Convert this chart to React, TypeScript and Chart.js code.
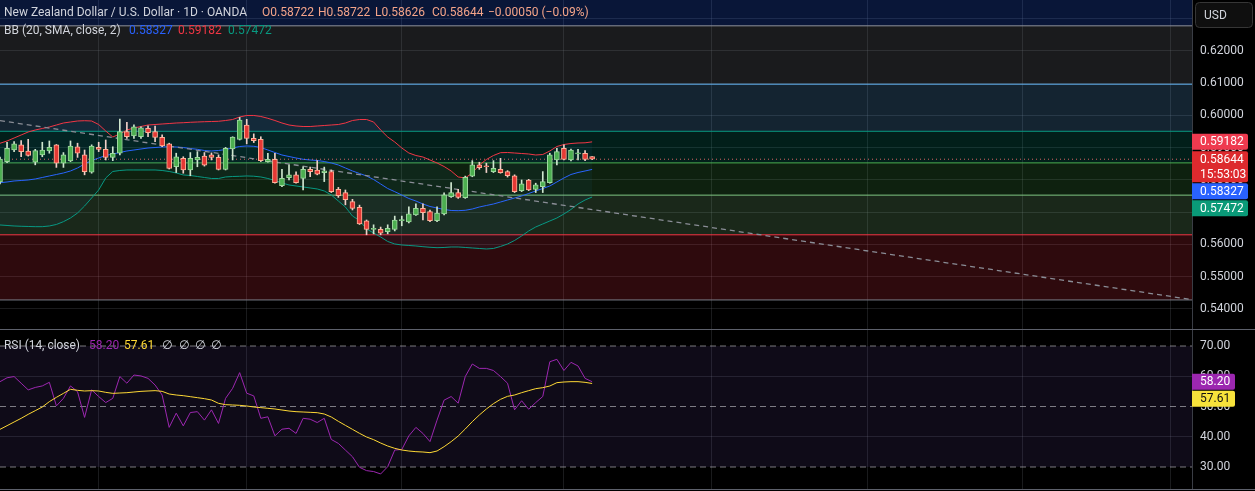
import React, { useEffect, useRef } from 'react';
import { Chart, registerables } from 'chart.js';

Chart.register(...registerables);

// ---------------- DATA ----------------
const symbolTitle = 'New Zealand Dollar / U.S. Dollar · 1D · OANDA';
const lastOpen = 0.58722;
const lastHigh = 0.58722;
const lastLow = 0.58626;
const lastClose = 0.58644;
const lastChange = -0.0005;
const lastChangePct = -0.09;
const countdown = '15:53:03';

const opens = [
  0.5794, 0.5857, 0.5893, 0.5909, 0.5890, 0.5855, 0.5878, 0.5890, 0.5909, 0.5852,
  0.5859, 0.5903, 0.5878, 0.5824, 0.5901, 0.5895, 0.5870, 0.5883, 0.5950, 0.5937,
  0.5934, 0.5960, 0.5950, 0.5932, 0.5912, 0.5841, 0.5867, 0.5831, 0.5862, 0.5874,
  0.5878, 0.5870, 0.5833, 0.5896, 0.5926, 0.5970, 0.5929, 0.5926, 0.5857, 0.5864,
  0.5782, 0.5807, 0.5816, 0.5805, 0.5833, 0.5831, 0.5823, 0.5826, 0.5771, 0.5761,
  0.5733, 0.5715, 0.5673, 0.5647, 0.5647, 0.5640, 0.5647, 0.5674, 0.5670, 0.5692,
  0.5712, 0.5702, 0.5674, 0.5695, 0.5748, 0.5761, 0.5745, 0.5812, 0.5847, 0.5842,
  0.5826, 0.5833, 0.5826, 0.5813, 0.5767, 0.5800, 0.5771, 0.5779, 0.5792, 0.5862,
  0.5898, 0.5862, 0.5881, 0.5883, 0.58722,
];
const highs = [
  0.5871, 0.5917, 0.5919, 0.5922, 0.5926, 0.5895, 0.5917, 0.5921, 0.5910, 0.5885,
  0.5921, 0.5914, 0.5893, 0.5909, 0.5917, 0.5924, 0.5903, 0.5989, 0.5979, 0.5971,
  0.5965, 0.5968, 0.5967, 0.5940, 0.5914, 0.5883, 0.5872, 0.5885, 0.5888, 0.5885,
  0.5884, 0.5878, 0.5901, 0.5934, 0.5994, 0.5988, 0.5943, 0.5934, 0.5883, 0.5883,
  0.5833, 0.5847, 0.5825, 0.5841, 0.5840, 0.5860, 0.5840, 0.5831, 0.5777, 0.5769,
  0.5740, 0.5722, 0.5676, 0.5661, 0.5654, 0.5661, 0.5688, 0.5688, 0.5717, 0.5726,
  0.5726, 0.5707, 0.5717, 0.5760, 0.5792, 0.5771, 0.5812, 0.5860, 0.5855, 0.5852,
  0.5860, 0.5867, 0.5829, 0.5816, 0.5800, 0.5802, 0.5790, 0.5826, 0.5883, 0.5898,
  0.5909, 0.5896, 0.5895, 0.5891, 0.58722,
];
const lows = [
  0.5788, 0.5854, 0.5888, 0.5872, 0.5874, 0.5847, 0.5872, 0.5883, 0.5839, 0.5839,
  0.5857, 0.5870, 0.5816, 0.5821, 0.5888, 0.5862, 0.5860, 0.5878, 0.5929, 0.5929,
  0.5929, 0.5934, 0.5919, 0.5903, 0.5834, 0.5823, 0.5821, 0.5813, 0.5841, 0.5843,
  0.5862, 0.5831, 0.5831, 0.5862, 0.5924, 0.5912, 0.5916, 0.5857, 0.5855, 0.5790,
  0.5779, 0.5800, 0.5790, 0.5769, 0.5810, 0.5816, 0.5795, 0.5761, 0.5746, 0.5723,
  0.5707, 0.5662, 0.5630, 0.5633, 0.5630, 0.5633, 0.5642, 0.5658, 0.5667, 0.5690,
  0.5676, 0.5671, 0.5671, 0.5692, 0.5746, 0.5743, 0.5743, 0.5810, 0.5833, 0.5823,
  0.5823, 0.5821, 0.5809, 0.5761, 0.5764, 0.5767, 0.5761, 0.5761, 0.5790, 0.5847,
  0.5862, 0.5859, 0.5862, 0.5860, 0.58626,
];
const closes = [
  0.5865, 0.5898, 0.5912, 0.5888, 0.5876, 0.5891, 0.5893, 0.5901, 0.5852, 0.5878,
  0.5905, 0.5883, 0.5826, 0.5905, 0.5895, 0.5870, 0.5883, 0.5950, 0.5934, 0.5965,
  0.5962, 0.5947, 0.5932, 0.5906, 0.5836, 0.5872, 0.5831, 0.5867, 0.5870, 0.5846,
  0.5870, 0.5833, 0.5898, 0.5933, 0.5986, 0.5929, 0.5922, 0.5860, 0.5864, 0.5792,
  0.5805, 0.5816, 0.5792, 0.5833, 0.5826, 0.5818, 0.5828, 0.5764, 0.5751, 0.5739,
  0.5712, 0.5664, 0.5647, 0.5648, 0.5635, 0.5650, 0.5676, 0.5675, 0.5695, 0.5712,
  0.5699, 0.5674, 0.5697, 0.5754, 0.5761, 0.5746, 0.5808, 0.5847, 0.5838, 0.5841,
  0.5836, 0.5823, 0.5813, 0.5764, 0.5788, 0.5769, 0.5785, 0.5795, 0.5878, 0.5888,
  0.5864, 0.5893, 0.5883, 0.5864, 0.58644,
];

const bbUpper = [
  0.59138, 0.59209, 0.59302, 0.59395, 0.59488, 0.59550, 0.59597, 0.59643, 0.59705, 0.59767,
  0.59798, 0.59829, 0.59838, 0.59829, 0.59720, 0.59519, 0.59333, 0.59426, 0.59550, 0.59612,
  0.59658, 0.59705, 0.59720, 0.59736, 0.59751, 0.59767, 0.59776, 0.59789, 0.59798, 0.59807,
  0.59813, 0.59820, 0.59844, 0.59875, 0.59953, 0.60000, 0.60000, 0.59969, 0.59913, 0.59844,
  0.59767, 0.59705, 0.59674, 0.59658, 0.59658, 0.59674, 0.59689, 0.59705, 0.59720, 0.59767,
  0.59844, 0.59875, 0.59875, 0.59798, 0.59550, 0.59333, 0.59178, 0.58992, 0.58837, 0.58759,
  0.58713, 0.58620, 0.58527, 0.58418, 0.58279, 0.58093, 0.58062, 0.58217, 0.58465, 0.58635,
  0.58759, 0.58846, 0.58852, 0.58837, 0.58821, 0.58806, 0.58775, 0.58790, 0.58899, 0.59038,
  0.59100, 0.59131, 0.59147, 0.59153, 0.59182,
];
const bbBasis = [
  0.57916, 0.57938, 0.57969, 0.57984, 0.58000, 0.58031, 0.58077, 0.58124, 0.58170, 0.58217,
  0.58279, 0.58372, 0.58496, 0.58604, 0.58682, 0.58759, 0.58806, 0.58852, 0.58899, 0.58930,
  0.58961, 0.58992, 0.59007, 0.59023, 0.59029, 0.59023, 0.59007, 0.58976, 0.58951, 0.58914,
  0.58899, 0.58914, 0.58945, 0.58992, 0.59038, 0.59054, 0.59045, 0.59007, 0.58930, 0.58852,
  0.58775, 0.58728, 0.58682, 0.58641, 0.58620, 0.58604, 0.58573, 0.58527, 0.58465, 0.58372,
  0.58279, 0.58201, 0.58124, 0.58015, 0.57876, 0.57736, 0.57637, 0.57534, 0.57426, 0.57348,
  0.57255, 0.57178, 0.57131, 0.57085, 0.57054, 0.57048, 0.57060, 0.57100, 0.57162, 0.57209,
  0.57255, 0.57317, 0.57379, 0.57441, 0.57503, 0.57581, 0.57659, 0.57736, 0.57814, 0.57938,
  0.58062, 0.58170, 0.58232, 0.58279, 0.58327,
];
const bbLower = [
  0.56604, 0.56589, 0.56573, 0.56564, 0.56558, 0.56552, 0.56552, 0.56573, 0.56620, 0.56707,
  0.56821, 0.56976, 0.57193, 0.57441, 0.57690, 0.58062, 0.58263, 0.58294, 0.58310, 0.58310,
  0.58310, 0.58310, 0.58310, 0.58294, 0.58263, 0.58217, 0.58155, 0.58139, 0.58108, 0.58077,
  0.58046, 0.58046, 0.58093, 0.58108, 0.58114, 0.58124, 0.58117, 0.58093, 0.58046, 0.57984,
  0.57907, 0.57845, 0.57814, 0.57783, 0.57752, 0.57721, 0.57659, 0.57534, 0.57348, 0.57162,
  0.56883, 0.56744, 0.56480, 0.56356, 0.56232, 0.56093, 0.56015, 0.55984, 0.55969, 0.55953,
  0.55931, 0.55913, 0.55900, 0.55907, 0.55922, 0.55922, 0.55907, 0.55891, 0.55876, 0.55860,
  0.55876, 0.55938, 0.56015, 0.56124, 0.56263, 0.56418, 0.56542, 0.56635, 0.56728, 0.56821,
  0.56945, 0.57085, 0.57255, 0.57379, 0.57472,
];

const rsiValues = [
  58.2, 59.5, 59.9, 57.7, 55.5, 56.3, 56.8, 58.0, 50.2, 52.7,
  56.8, 54.9, 46.4, 55.5, 53.3, 51.3, 52.7, 59.9, 57.7, 60.4,
  60.1, 59.3, 57.1, 53.8, 43.1, 47.8, 43.6, 48.0, 48.3, 45.5,
  48.9, 44.4, 52.7, 56.0, 61.2, 54.4, 53.5, 46.1, 46.6, 40.3,
  42.5, 42.8, 41.1, 46.1, 45.8, 44.7, 46.1, 39.1, 37.8, 35.6,
  33.4, 29.9, 28.8, 28.5, 27.7, 30.1, 35.6, 35.8, 40.3, 43.1,
  41.1, 38.4, 45.5, 52.1, 53.3, 51.1, 59.9, 64.05, 62.6, 62.6,
  61.9, 59.9, 57.7, 48.9, 51.9, 49.1, 51.3, 53.3, 64.8, 65.6,
  61.9, 64.6, 63.4, 59.3, 58.2,
];
const rsiMaValues = [
  42.45, 43.66, 44.88, 46.09, 47.41, 48.62, 49.84, 51.6, 53.03, 54.35,
  55.68, 55.35, 55.13, 55.24, 55.13, 54.68, 54.35, 54.46, 54.57, 54.79,
  55.01, 55.13, 55.24, 55.01, 54.13, 53.8, 53.58, 53.25, 52.92, 52.59,
  52.15, 51.05, 50.61, 50.5, 50.39, 50.17, 49.84, 49.62, 49.4, 49.18,
  48.84, 48.51, 48.29, 48.18, 48.07, 47.96, 47.52, 46.53, 45.1, 43.77,
  42.45, 41.13, 39.92, 39.04, 37.93, 36.94, 36.17, 35.62, 35.29, 35.07,
  34.96, 34.74, 35.29, 36.72, 38.38, 40.25, 42.56, 44.99, 47.19, 49.18,
  50.94, 52.37, 53.36, 53.8, 54.57, 55.24, 55.9, 56.23, 56.78, 57.88,
  58.1, 58.21, 58.21, 57.99, 57.61,
];
const rsiLast = 58.2;
const rsiMaLast = 57.61;

const fibLevels = [0.5428, 0.5630, 0.5753, 0.5853, 0.5951, 0.6097, 0.6278];
const trendFromBar = 0;
const trendFromPrice = 0.5984;
const trendToBar = 169.1;
const trendToPrice = 0.5429;

const monthGridBars = [14, 35, 57, 80, 101, 123, 145, 166];
const priceTicks = [0.54, 0.55, 0.56, 0.57, 0.58, 0.59, 0.6, 0.61, 0.62, 0.63];
const rsiTicks = [30, 40, 50, 60, 70];
const rsiLevels = [70, 50, 30];

// ---------------- LAYOUT / STYLE ----------------
const W = 1255;
const AXIS_W = 63;
const MAIN_H = 329;
const RSI_TOP = 330;
const RSI_H = 159;
const X_MIN = 0;
const X_MAX = 169.1;
const PRICE_MIN = 0.53379;
const PRICE_MAX = 0.63581;
const RSI_MIN = 22.73;
const RSI_MAX = 75.29;
const FONT = 'Roboto, "Noto Sans", "DejaVu Sans", sans-serif';

const UP = '#4caf50';
const UP_BORDER = '#9ed89f';
const DOWN = '#e53935';
const DOWN_BORDER = '#ffb199';
const WICK_UP = '#cfe6cf';
const WICK_DOWN = '#f0cfc8';
const GRID = 'rgba(120,123,134,0.22)';
const AXIS_TEXT = '#d1d4dc';

const fibLineColors = ['#787b86', '#f23645', '#81c784', '#4caf50', '#089981', '#64b5f6', '#8f929c'];
const fibFillColors = [
  'rgba(0,0,0,0)',
  'rgba(242,54,69,0.19)',
  'rgba(129,199,132,0.2)',
  'rgba(76,175,80,0.19)',
  'rgba(8,153,129,0.2)',
  'rgba(100,181,246,0.2)',
  'rgba(120,123,134,0.22)',
];
const fibTopFill = 'rgba(41,98,255,0.22)';

const BB_UP_C = '#f23645';
const BB_BASIS_C = '#2962ff';
const BB_LOW_C = '#089981';
const RSI_C = '#9c27b0';
const RSI_MA_C = '#fdd835';

function fmt5(v: number) {
  return v.toFixed(5);
}
function signed(v: number, d: number) {
  return (v < 0 ? '\u2212' : '+') + Math.abs(v).toFixed(d);
}

function roundRect(ctx: CanvasRenderingContext2D, x: number, y: number, w: number, h: number, r: number) {
  ctx.beginPath();
  ctx.moveTo(x, y);
  ctx.lineTo(x + w - r, y);
  ctx.quadraticCurveTo(x + w, y, x + w, y + r);
  ctx.lineTo(x + w, y + h - r);
  ctx.quadraticCurveTo(x + w, y + h, x + w - r, y + h);
  ctx.lineTo(x, y + h);
  ctx.closePath();
}

type Box = { value: number; color: string; text: string; text2?: string; textColor: string };

function drawBoxes(ctx: CanvasRenderingContext2D, scale: any, boxes: Box[], x0: number, x1: number) {
  const sorted = [...boxes].sort((a, b) => b.value - a.value);
  let prevBottom = -1e9;
  ctx.textBaseline = 'middle';
  ctx.textAlign = 'left';
  for (const b of sorted) {
    const y = scale.getPixelForValue(b.value);
    const h = b.text2 ? 31 : 16;
    let top = y - 8;
    if (top < prevBottom + 1) top = prevBottom + 1;
    ctx.fillStyle = b.color;
    roundRect(ctx, x0, top, x1 - x0, h, 2);
    ctx.fill();
    ctx.fillStyle = b.textColor;
    ctx.font = `12px ${FONT}`;
    ctx.fillText(b.text, x0 + 8, top + 8.5);
    if (b.text2) {
      ctx.fillText(b.text2, x0 + 8, top + 23.5);
    }
    prevBottom = top + h;
  }
}

const mainOverlay = {
  id: 'mainOverlay',
  afterDraw(chart: any) {
    const ctx: CanvasRenderingContext2D = chart.ctx;
    const ys = chart.scales.y;
    const area = chart.chartArea;
    ctx.save();
    ctx.textBaseline = 'middle';
    ctx.textAlign = 'left';
    ctx.font = `12px ${FONT}`;
    ctx.fillStyle = AXIS_TEXT;
    ctx.fillText(symbolTitle, 4, 13, 250);
    const peach = '#f4a489';
    const segs: [string, number][] = [
      ['O' + fmt5(lastOpen), 262],
      ['H' + fmt5(lastHigh), 318],
      ['L' + fmt5(lastLow), 375],
      ['C' + fmt5(lastClose), 432],
      [signed(lastChange, 5) + ' (' + signed(lastChangePct, 2) + '%)', 488],
    ];
    ctx.fillStyle = peach;
    for (const [t, x] of segs) ctx.fillText(t, x, 13);
    ctx.fillStyle = AXIS_TEXT;
    ctx.fillText('BB (20, SMA, close, 2)', 4, 30.5, 117);
    ctx.fillStyle = BB_BASIS_C;
    ctx.fillText(fmt5(bbBasis[bbBasis.length - 1]), 129, 30.5);
    ctx.fillStyle = BB_UP_C;
    ctx.fillText(fmt5(bbUpper[bbUpper.length - 1]), 178, 30.5);
    ctx.fillStyle = BB_LOW_C;
    ctx.fillText(fmt5(bbLower[bbLower.length - 1]), 228, 30.5);

    const x0 = area.right;
    drawBoxes(
      ctx,
      ys,
      [
        { value: bbUpper[bbUpper.length - 1], color: '#ef3a4f', text: fmt5(bbUpper[bbUpper.length - 1]), textColor: '#ffffff' },
        { value: lastClose, color: '#dd2a2e', text: fmt5(lastClose), text2: countdown, textColor: '#ffffff' },
        { value: bbBasis[bbBasis.length - 1], color: '#2962ff', text: fmt5(bbBasis[bbBasis.length - 1]), textColor: '#ffffff' },
        { value: bbLower[bbLower.length - 1], color: '#0a9a78', text: fmt5(bbLower[bbLower.length - 1]), textColor: '#ffffff' },
      ],
      x0,
      x0 + 56
    );

    ctx.fillStyle = '#000000';
    ctx.fillRect(x0 + 1, 0, W - x0 - 1, 30);
    ctx.beginPath();
    const bx = 1195.5, by = 2.5, bw = 57, bh = 25, r = 4;
    ctx.moveTo(bx + r, by);
    ctx.arcTo(bx + bw, by, bx + bw, by + bh, r);
    ctx.arcTo(bx + bw, by + bh, bx, by + bh, r);
    ctx.arcTo(bx, by + bh, bx, by, r);
    ctx.arcTo(bx, by, bx + bw, by, r);
    ctx.closePath();
    ctx.fillStyle = '#0f0f0f';
    ctx.fill();
    ctx.strokeStyle = '#363636';
    ctx.lineWidth = 1;
    ctx.stroke();
    ctx.fillStyle = AXIS_TEXT;
    ctx.font = `12px ${FONT}`;
    ctx.fillText('USD', 1204, 15.5);
    ctx.restore();
  },
};

const rsiOverlay = {
  id: 'rsiOverlay',
  afterDraw(chart: any) {
    const ctx: CanvasRenderingContext2D = chart.ctx;
    const ys = chart.scales.y;
    const area = chart.chartArea;
    ctx.save();
    ctx.textBaseline = 'middle';
    ctx.textAlign = 'left';
    ctx.font = `12px ${FONT}`;
    ctx.fillStyle = AXIS_TEXT;
    ctx.fillText('RSI (14, close)', 4, 16, 76);
    ctx.fillStyle = RSI_C;
    ctx.fillText(rsiLast.toFixed(2), 89, 16);
    ctx.fillStyle = RSI_MA_C;
    ctx.fillText(rsiMaLast.toFixed(2), 124, 16);
    ctx.fillStyle = AXIS_TEXT;
    [162, 179, 195, 211].forEach((x) => ctx.fillText('\u2205', x, 16));
    drawBoxes(
      ctx,
      ys,
      [
        { value: rsiLast, color: '#9c27b0', text: rsiLast.toFixed(2), textColor: '#ffffff' },
        { value: rsiMaLast, color: '#f7e23b', text: rsiMaLast.toFixed(2), textColor: '#111111' },
      ],
      area.right,
      area.right + 43
    );
    ctx.restore();
  },
};

function hLine(y: number) {
  return [
    { x: X_MIN, y },
    { x: X_MAX, y },
  ];
}

function xScale() {
  return {
    type: 'linear',
    min: X_MIN,
    max: X_MAX,
    offset: false,
    afterBuildTicks: (s: any) => {
      s.ticks = monthGridBars.map((v) => ({ value: v }));
    },
    afterFit: (s: any) => {
      s.height = 0;
      s.paddingLeft = 0;
      s.paddingRight = 0;
      s.paddingTop = 0;
      s.paddingBottom = 0;
    },
    ticks: { display: false },
    grid: { color: GRID, drawTicks: false, offset: false },
    border: { display: false },
  };
}

function yFit(s: any) {
  s.width = AXIS_W;
  s.paddingTop = 0;
  s.paddingBottom = 0;
  s.paddingLeft = 0;
  s.paddingRight = 0;
}

export default function App() {
  const mainRef = useRef<HTMLCanvasElement>(null);
  const rsiRef = useRef<HTMLCanvasElement>(null);

  useEffect(() => {
    const idx = closes.map((_, i) => i);
    const isUp = idx.map((i) => closes[i] >= opens[i]);

    const datasets: any[] = [];
    datasets.push({
      type: 'line',
      data: hLine(fibLevels[fibLevels.length - 1]),
      borderWidth: 0,
      borderColor: 'rgba(0,0,0,0)',
      backgroundColor: fibTopFill,
      fill: 'end',
      pointRadius: 0,
      order: 30,
    });
    fibLevels.forEach((lv, k) => {
      datasets.push({
        type: 'line',
        data: hLine(lv),
        borderWidth: 1,
        borderColor: fibLineColors[k],
        backgroundColor: fibFillColors[k],
        fill: k > 0 ? { value: fibLevels[k - 1] } : false,
        pointRadius: 0,
        order: 20,
      });
    });
    datasets.push({
      type: 'line',
      data: idx.map((i) => ({ x: i, y: bbUpper[i] })),
      borderColor: BB_UP_C,
      borderWidth: 1,
      pointRadius: 0,
      fill: '+2',
      backgroundColor: 'rgba(33,150,243,0.05)',
      order: 6,
    });
    datasets.push({
      type: 'line',
      data: idx.map((i) => ({ x: i, y: bbBasis[i] })),
      borderColor: BB_BASIS_C,
      borderWidth: 1,
      pointRadius: 0,
      fill: false,
      order: 6,
    });
    datasets.push({
      type: 'line',
      data: idx.map((i) => ({ x: i, y: bbLower[i] })),
      borderColor: BB_LOW_C,
      borderWidth: 1,
      pointRadius: 0,
      fill: false,
      order: 6,
    });
    datasets.push({
      type: 'line',
      data: [
        { x: trendFromBar, y: trendFromPrice },
        { x: trendToBar, y: trendToPrice },
      ],
      borderColor: '#8a8d96',
      borderWidth: 1.3,
      borderDash: [5, 4],
      pointRadius: 0,
      fill: false,
      order: 5,
    });
    datasets.push({
      type: 'line',
      data: hLine(lastClose),
      borderColor: 'rgba(240,110,110,0.9)',
      borderWidth: 1,
      borderDash: [1, 3],
      pointRadius: 0,
      fill: false,
      order: 5,
    });
    datasets.push({
      type: 'bar',
      data: idx.map((i) => ({ x: i, y: [lows[i], highs[i]] })),
      backgroundColor: idx.map((i) => (isUp[i] ? WICK_UP : WICK_DOWN)),
      borderWidth: 0,
      barThickness: 1,
      grouped: false,
      order: 3,
    });
    datasets.push({
      type: 'bar',
      data: idx.map((i) => ({ x: i, y: [opens[i], closes[i]] })),
      backgroundColor: idx.map((i) => (isUp[i] ? UP : DOWN)),
      borderColor: idx.map((i) => (isUp[i] ? UP_BORDER : DOWN_BORDER)),
      borderWidth: 1,
      borderSkipped: false,
      barThickness: 5,
      minBarLength: 1,
      grouped: false,
      order: 2,
    });

    const main = new Chart(mainRef.current as HTMLCanvasElement, {
      type: 'line',
      data: { datasets },
      options: {
        animation: false,
        responsive: false,
        events: [],
        layout: { padding: 0 },
        plugins: { legend: { display: false }, tooltip: { enabled: false } },
        scales: {
          x: xScale() as any,
          y: {
            type: 'linear',
            position: 'right',
            min: PRICE_MIN,
            max: PRICE_MAX,
            afterBuildTicks: (s: any) => {
              s.ticks = priceTicks.map((v) => ({ value: v }));
            },
            afterFit: yFit,
            ticks: {
              callback: (v: any) => Number(v).toFixed(5),
              color: AXIS_TEXT,
              font: { family: FONT, size: 12 },
              padding: 8,
            },
            grid: { color: GRID, drawTicks: false },
            border: { display: true, color: '#3a3d45' },
          } as any,
        },
      },
      plugins: [mainOverlay],
    });

    const rsiSets: any[] = [];
    rsiSets.push({
      type: 'line',
      data: hLine(rsiLevels[0]),
      borderWidth: 0,
      borderColor: 'rgba(0,0,0,0)',
      backgroundColor: 'rgba(126,87,194,0.12)',
      fill: { value: rsiLevels[2] },
      pointRadius: 0,
      order: 30,
    });
    rsiLevels.forEach((lv) => {
      rsiSets.push({
        type: 'line',
        data: hLine(lv),
        borderWidth: 1,
        borderColor: 'rgba(200,200,205,0.6)',
        borderDash: [6, 4],
        pointRadius: 0,
        fill: false,
        order: 20,
      });
    });
    rsiSets.push({
      type: 'line',
      data: idx.map((i) => ({ x: i, y: rsiValues[i] })),
      borderColor: RSI_C,
      borderWidth: 1,
      pointRadius: 0,
      fill: false,
      order: 2,
    });
    rsiSets.push({
      type: 'line',
      data: idx.map((i) => ({ x: i, y: rsiMaValues[i] })),
      borderColor: RSI_MA_C,
      borderWidth: 1,
      pointRadius: 0,
      fill: false,
      order: 1,
    });

    const rsi = new Chart(rsiRef.current as HTMLCanvasElement, {
      type: 'line',
      data: { datasets: rsiSets },
      options: {
        animation: false,
        responsive: false,
        events: [],
        layout: { padding: 0 },
        plugins: { legend: { display: false }, tooltip: { enabled: false } },
        scales: {
          x: xScale() as any,
          y: {
            type: 'linear',
            position: 'right',
            min: RSI_MIN,
            max: RSI_MAX,
            afterBuildTicks: (s: any) => {
              s.ticks = rsiTicks.map((v) => ({ value: v }));
            },
            afterFit: yFit,
            ticks: {
              callback: (v: any) => Number(v).toFixed(2),
              color: AXIS_TEXT,
              font: { family: FONT, size: 12 },
              padding: 8,
            },
            grid: {
              color: (c: any) => (c.tick && (c.tick.value === 60 || c.tick.value === 40) ? GRID : 'rgba(0,0,0,0)'),
              drawTicks: false,
            },
            border: { display: true, color: '#3a3d45' },
          } as any,
        },
      },
      plugins: [rsiOverlay],
    });

    return () => {
      main.destroy();
      rsi.destroy();
    };
  }, []);

  return (
    <div style={{ position: 'fixed', left: 0, top: 0, width: W, height: 491, background: '#000', overflow: 'hidden' }}>
      <canvas ref={mainRef} width={W} height={MAIN_H} style={{ position: 'absolute', left: 0, top: 0, display: 'block' }} />
      <div style={{ position: 'absolute', left: 0, top: MAIN_H, width: W, height: 1, background: '#5d606b' }} />
      <canvas ref={rsiRef} width={W} height={RSI_H} style={{ position: 'absolute', left: 0, top: RSI_TOP, display: 'block' }} />
      <div style={{ position: 'absolute', left: 0, top: RSI_TOP + RSI_H, width: W, height: 1, background: '#5d606b' }} />
    </div>
  );
}
